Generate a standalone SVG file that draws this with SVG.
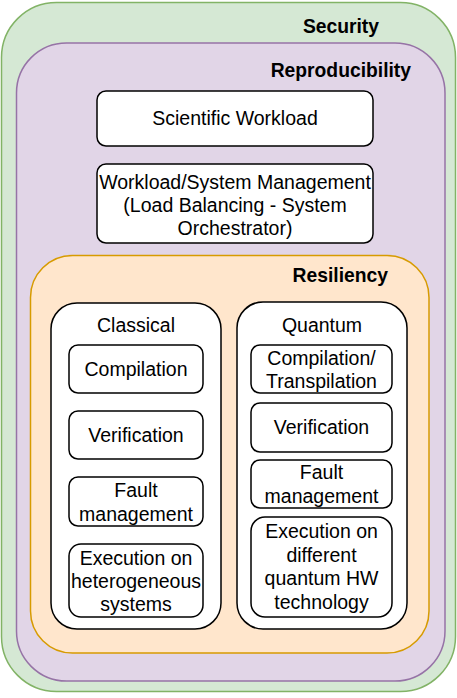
<svg xmlns="http://www.w3.org/2000/svg" width="457" height="698" viewBox="0 0 457 698">
<style>
text{font-family:"Liberation Sans",Arial,Helvetica,sans-serif;font-size:19.5px;fill:#000;text-anchor:middle}
.h{font-weight:bold;font-size:19.3px;text-anchor:end}
.box{fill:#fff;stroke:#000;stroke-width:1.5}
</style>
<rect width="457" height="698" fill="#fff"/>
<g id="security">
<rect x="1.5" y="2.5" width="454" height="689" rx="55" fill="#d5e8d4" stroke="#82b366" stroke-width="1.5"/>
<text class="h" x="379" y="33">Security</text>
</g>
<g id="reproducibility">
<rect x="16.5" y="43" width="428.5" height="638" rx="50" fill="#e1d5e7" stroke="#9673a6" stroke-width="1.5"/>
<text class="h" x="411" y="77">Reproducibility</text>
</g>
<g id="scientific-workload">
<rect class="box" x="97" y="91" width="276" height="55" rx="9"/>
<text x="235" y="125">Scientific Workload</text>
</g>
<g id="workload-management">
<rect class="box" x="97" y="164" width="276" height="79" rx="9"/>
<text x="235" y="189">Workload/System Management</text>
<text x="235" y="212">(Load Balancing - System</text>
<text x="235" y="235">Orchestrator)</text>
</g>
<g id="resiliency">
<rect x="30.5" y="255.5" width="398.5" height="397.5" rx="42" fill="#ffe6cc" stroke="#d79b00" stroke-width="1.5"/>
<text class="h" x="388" y="282">Resiliency</text>
</g>
<g id="classical">
<rect class="box" x="51" y="303" width="170" height="326" rx="26"/>
<text x="136" y="332">Classical</text>
</g>
<g id="c-compilation">
<rect class="box" x="69" y="345" width="134" height="48" rx="9"/>
<text x="136" y="376">Compilation</text>
</g>
<g id="c-verification">
<rect class="box" x="69" y="411" width="134" height="48" rx="9"/>
<text x="136" y="442">Verification</text>
</g>
<g id="c-fault">
<rect class="box" x="69" y="477" width="134" height="49" rx="9"/>
<text x="136" y="497">Fault</text>
<text x="136" y="521">management</text>
</g>
<g id="c-execution">
<rect class="box" x="69" y="544" width="134" height="73" rx="12"/>
<text x="136" y="565">Execution on</text>
<text x="136" y="588">heterogeneous</text>
<text x="136" y="611">systems</text>
</g>
<g id="quantum">
<rect class="box" x="237" y="302" width="170" height="327" rx="26"/>
<text x="322" y="332">Quantum</text>
</g>
<g id="q-compilation">
<rect class="box" x="251" y="345" width="141" height="48" rx="9"/>
<text x="321.5" y="365">Compilation/</text>
<text x="321.5" y="388">Transpilation</text>
</g>
<g id="q-verification">
<rect class="box" x="251" y="403" width="141" height="49" rx="9"/>
<text x="321.5" y="434">Verification</text>
</g>
<g id="q-fault">
<rect class="box" x="251" y="460" width="141" height="48" rx="9"/>
<text x="321.5" y="479">Fault</text>
<text x="321.5" y="503">management</text>
</g>
<g id="q-execution">
<rect class="box" x="251" y="517" width="141" height="100" rx="14"/>
<text x="321.5" y="538">Execution on</text>
<text x="321.5" y="562">different</text>
<text x="321.5" y="585">quantum HW</text>
<text x="321.5" y="609">technology</text>
</g>
<g id="connectors"></g>
</svg>
